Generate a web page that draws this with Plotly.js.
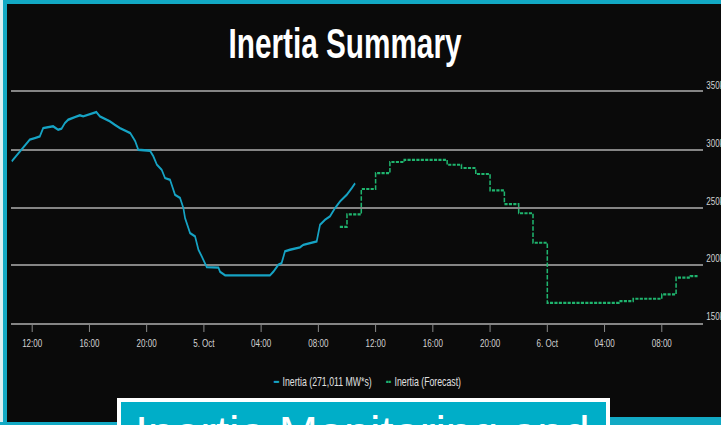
<!DOCTYPE html>
<html><head><meta charset="utf-8">
<script src="https://cdn.plot.ly/plotly-3.0.1.min.js"></script>
<style>
html,body{margin:0;padding:0;background:#0a0a0a;width:721px;height:425px;overflow:hidden;}
#wrap{position:relative;width:721px;height:425px;overflow:hidden;}
#chart{position:absolute;left:0;top:0;width:1030px;height:425px;transform:scaleX(0.7);transform-origin:0 0;}
.ov{position:absolute;pointer-events:none;}
#banner{left:117px;top:398px;width:485px;height:40px;background:#00aec8;border:4px solid #fff;overflow:hidden;}
#banner div{position:absolute;left:14px;top:8px;font-family:'Liberation Sans',Arial,sans-serif;font-size:47px;line-height:46px;color:#fff;white-space:nowrap;}
</style></head><body>
<div id="wrap">
<div id="chart"></div>
<div class="ov" style="left:0;top:0;width:721px;height:4px;background:#12a9c4"></div>
<div class="ov" style="left:0;top:0;width:3px;height:425px;background:#d8eef2"></div>
<div class="ov" style="left:3px;top:0;width:4px;height:425px;background:#12a9c4"></div>
<div class="ov" style="left:0;top:422px;width:721px;height:3px;background:#12a9c4"></div>
<div class="ov" style="left:610px;top:417px;width:111px;height:8px;background:#12a9c4"></div>
<div class="ov" id="banner"><div>Inertia Monitoring and</div></div>
</div>
<script>
const actualTimes = ['2023-10-04 10:34','2023-10-04 11:08','2023-10-04 11:22','2023-10-04 11:50','2023-10-04 12:11','2023-10-04 12:32','2023-10-04 12:46','2023-10-04 13:14','2023-10-04 13:28','2023-10-04 13:49','2023-10-04 14:03','2023-10-04 14:17','2023-10-04 14:31','2023-10-04 14:59','2023-10-04 15:20','2023-10-04 15:34','2023-10-04 15:55','2023-10-04 16:16','2023-10-04 16:29','2023-10-04 16:44','2023-10-04 17:05','2023-10-04 17:26','2023-10-04 17:47','2023-10-04 18:08','2023-10-04 18:30','2023-10-04 18:51','2023-10-04 19:04','2023-10-04 19:12','2023-10-04 19:25','2023-10-04 20:14','2023-10-04 20:28','2023-10-04 20:43','2023-10-04 21:03','2023-10-04 21:17','2023-10-04 21:38','2023-10-04 21:45','2023-10-04 21:59','2023-10-04 22:20','2023-10-04 22:34','2023-10-04 22:41','2023-10-04 23:02','2023-10-04 23:23','2023-10-04 23:37','2023-10-04 23:51','2023-10-05 00:12','2023-10-05 01:01','2023-10-05 01:08','2023-10-05 01:29','2023-10-05 04:37','2023-10-05 04:51','2023-10-05 05:12','2023-10-05 05:26','2023-10-05 05:40','2023-10-05 06:01','2023-10-05 06:43','2023-10-05 06:57','2023-10-05 07:25','2023-10-05 07:53','2023-10-05 08:07','2023-10-05 08:28','2023-10-05 08:49','2023-10-05 09:10','2023-10-05 09:31','2023-10-05 09:59','2023-10-05 10:20','2023-10-05 10:34'];
const actualValues = [290000,298600,302100,308700,310100,311600,318800,319400,320300,317300,318200,323100,326000,328300,329800,328900,330300,331800,332600,328900,326800,324600,321600,318800,316600,314500,310100,307500,300000,299100,294300,287000,282700,275500,274000,269700,261000,258200,249500,240900,227900,225000,213400,207700,198400,198000,194300,191200,191200,194300,200400,201900,212000,213400,215500,217700,219200,220700,235100,239400,242300,249500,255300,261000,266800,271011];

const forecastTimes = ['2023-10-05 09:30','2023-10-05 10:00','2023-10-05 11:00','2023-10-05 12:00','2023-10-05 13:00','2023-10-05 14:00','2023-10-05 15:00','2023-10-05 16:00','2023-10-05 17:00','2023-10-05 18:00','2023-10-05 19:00','2023-10-05 20:00','2023-10-05 21:00','2023-10-05 22:00','2023-10-05 23:00','2023-10-06 00:00','2023-10-06 01:00','2023-10-06 02:00','2023-10-06 03:00','2023-10-06 04:00','2023-10-06 05:00','2023-10-06 06:00','2023-10-06 07:00','2023-10-06 08:00','2023-10-06 09:00','2023-10-06 10:00','2023-10-06 10:30'];
const forecastValues = [233200,244000,266000,279800,289400,291300,291300,291300,287000,284200,279000,264800,253000,245000,219500,167500,167500,167500,167500,167500,168900,171000,171000,174800,189300,190500,190500];

const xTickVals = ['2023-10-04 12:00','2023-10-04 16:00','2023-10-04 20:00','2023-10-05 00:00','2023-10-05 04:00','2023-10-05 08:00','2023-10-05 12:00','2023-10-05 16:00','2023-10-05 20:00','2023-10-06 00:00','2023-10-06 04:00','2023-10-06 08:00'];
const xTickText = ['12:00','16:00','20:00','5. Oct','04:00','08:00','12:00','16:00','20:00','6. Oct','04:00','08:00'];
const yTickVals = [150000,200000,250000,300000,350000];
const yTickText = ['150k','200k','250k','300k','350k'];
const xRange = ['2023-10-04 10:32','2023-10-06 10:52'];
const yRange = [150000,350000];

const seriesNames = ['Inertia', 'Inertia (Forecast)'];
const ACT = '#16a3c4', FC = '#1fb46e';
const FONT = "'Liberation Sans',Arial,sans-serif";
const lastVal = actualValues[actualValues.length-1].toLocaleString('en-US');
const actName = seriesNames[0] + ' (' + lastVal + ' MW*s)';

const traces = [
  {x: actualTimes, y: actualValues, type:'scatter', mode:'lines', name: actName,
   line:{color:ACT, width:2.4}},
  {x: forecastTimes, y: forecastValues, type:'scatter', mode:'lines', name: seriesNames[1],
   line:{color:FC, width:2.2, dash:'4.5px,1.8px', shape:'hv'}}
];

const layout = {
  width:1030, height:425,
  paper_bgcolor:'#0a0a0a', plot_bgcolor:'#0a0a0a',
  margin:{l:16, r:26, t:92, b:102, pad:0},
  showlegend:false,
  title:{text:'Inertia Summary', font:{family:FONT, size:42.5, color:'#ffffff', weight:'bold'},
    x:0.4785, xref:'container', xanchor:'center', y:1-43/425, yref:'container', yanchor:'middle'},
  xaxis:{type:'date', range:xRange, tickmode:'array', tickvals:xTickVals, ticktext:xTickText,
    ticks:'outside', ticklen:7, tickcolor:'#8c8c8c', tickwidth:1.4, showgrid:false,
    showline:true, mirror:true, linecolor:'#858585', linewidth:2, zeroline:false,
    ticklabelstandoff:1,
    tickfont:{family:FONT, size:11.5, color:'#d2d2d2'}},
  yaxis:{range:yRange, side:'right', tickmode:'array', tickvals:yTickVals, ticktext:yTickText,
    showgrid:true, gridcolor:'#858585', gridwidth:2, zeroline:false, showline:false, ticks:'',
    ticklabelstandoff:4, ticklabelshift:-7,
    tickfont:{family:FONT, size:11.5, color:'#d2d2d2'}},
  annotations:[
    {xref:'paper', yref:'paper', x:0.3772, y:-0.254, xanchor:'left', yanchor:'middle', showarrow:false,
     text:"<span style='color:"+ACT+"'>━</span> "+actName, font:{family:FONT, size:12.5, color:'#e0e0e0'}},
    {xref:'paper', yref:'paper', x:0.5405, y:-0.254, xanchor:'left', yanchor:'middle', showarrow:false,
     text:"<span style='color:"+FC+"'>╍</span> "+seriesNames[1], font:{family:FONT, size:12.5, color:'#e0e0e0'}}
  ]
};
Plotly.newPlot('chart', traces, layout, {displayModeBar:false, staticPlot:true});
</script>
</body></html>
